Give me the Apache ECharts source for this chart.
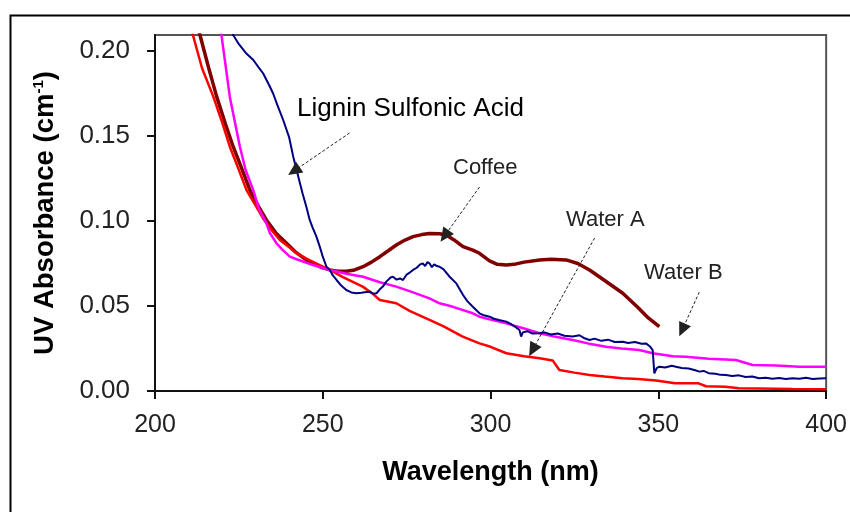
<!DOCTYPE html>
<html>
<head>
<meta charset="utf-8">
<script src="https://cdn.jsdelivr.net/npm/echarts@6/dist/echarts.min.js"></script>
<style>
html,body{margin:0;padding:0;background:#fff;}
#chart{width:850px;height:512px;}
</style>
</head>
<body>
<div id="chart"></div>
<script>
// ---- Data (wavelength nm, absorbance cm^-1) ----
var xTicks = [200, 250, 300, 350, 400];
var yTicks = [0, 0.05, 0.10, 0.15, 0.20];

var waterA_x = [210, 211.3, 214, 217.4, 220, 222.3, 225, 227.3, 230, 232.2, 235, 237.2, 240, 242.2, 246, 249.1, 252.1, 256, 261.9, 265, 267, 271.9, 276, 281.8, 286, 291.7, 296.7, 300, 304.7, 310, 314.6, 318.5, 320.5, 325, 329.5, 334, 339.3, 344, 349.3, 355, 362, 364.2, 370, 374, 380, 390, 400];
var waterA_y = [0.218, 0.2094, 0.19, 0.173, 0.158, 0.1437, 0.13, 0.118, 0.109, 0.1015, 0.094, 0.0888, 0.0845, 0.081, 0.077, 0.074, 0.0712, 0.067, 0.0614, 0.057, 0.0535, 0.0516, 0.047, 0.0418, 0.038, 0.032, 0.028, 0.026, 0.0222, 0.0205, 0.0192, 0.018, 0.0124, 0.0108, 0.0094, 0.0085, 0.0075, 0.007, 0.0062, 0.0045, 0.0045, 0.0028, 0.0025, 0.0016, 0.0015, 0.0012, 0.001];

var waterB_x = [219, 219.8, 222.3, 225.3, 227, 229.3, 231, 233.2, 234.2, 236.2, 238, 240.2, 242.2, 247.1, 252.1, 257, 262, 267, 271.9, 276.9, 281.8, 284.8, 288, 291.8, 294.7, 296.7, 300, 304.7, 310, 314.6, 319, 324.5, 329, 334.4, 339, 344.3, 348.3, 354.3, 358.2, 365, 373.1, 378.1, 385, 392, 400];
var waterB_y = [0.215, 0.2094, 0.173, 0.1437, 0.13, 0.118, 0.107, 0.0986, 0.093, 0.0869, 0.083, 0.079, 0.0775, 0.0741, 0.0712, 0.069, 0.0672, 0.064, 0.0614, 0.058, 0.0545, 0.0516, 0.05, 0.0476, 0.0457, 0.0437, 0.042, 0.0398, 0.0368, 0.034, 0.032, 0.03, 0.028, 0.026, 0.025, 0.0241, 0.0222, 0.0205, 0.0202, 0.019, 0.0182, 0.0153, 0.015, 0.0143, 0.0143];

var coffee_x = [212.5, 213.4, 216, 218.4, 221, 223.3, 226, 228.3, 231, 233.2, 236, 239.2, 242, 245.1, 247.1, 249.5, 252.1, 254.5, 257, 259.5, 262, 264.5, 267, 269.5, 271.9, 274.5, 276.9, 279.5, 281.8, 284.8, 286.8, 289, 291.8, 294.7, 296.7, 299.7, 302, 304.7, 307, 310, 314.6, 318, 322.5, 326, 329.5, 334, 339.4, 344, 347, 350.3];
var coffee_y = [0.216, 0.2094, 0.19, 0.173, 0.157, 0.1437, 0.13, 0.118, 0.108, 0.1006, 0.093, 0.0869, 0.0815, 0.0771, 0.0751, 0.0728, 0.0712, 0.0705, 0.0705, 0.0712, 0.0731, 0.0758, 0.079, 0.0825, 0.0859, 0.0888, 0.0908, 0.092, 0.0927, 0.0925, 0.0918, 0.089, 0.0849, 0.0829, 0.081, 0.0765, 0.0745, 0.0741, 0.0745, 0.0758, 0.0771, 0.0775, 0.0771, 0.075, 0.0712, 0.065, 0.0575, 0.049, 0.043, 0.0378];

var lignin_x = [222.5, 223.3, 225, 227, 229.3, 231, 232.2, 234, 235.2, 236.5, 238.2, 240, 241.2, 242.2, 243.2, 244, 245.1, 246.1, 247, 248.1, 249.1, 250, 251.1, 252.1, 253, 254.1, 255.5, 257, 258.5, 260, 261.5, 263, 264, 265, 266, 267, 267.9, 269, 270.2, 270.9, 272, 273, 273.9, 275, 276, 276.9, 278, 279, 279.8, 280.5, 281.2, 281.8, 282.5, 283.2, 284, 284.8, 286, 287.8, 289.8, 291.8, 293, 294.7, 296.7, 298, 299.7, 301, 302.5, 304.7, 306, 307.5, 308.6, 309.1, 309.6, 311, 312.5, 314.6, 316, 318, 320, 322, 324.5, 326.5, 328, 329.5, 331, 333, 335, 337, 339.4, 341, 343, 345, 346.3, 347.5, 348.3, 348.8, 349.5, 350.3, 352, 354, 355.2, 357, 359, 361, 362.2, 363.5, 365, 367, 368.5, 370.1, 372, 374, 376, 378, 380, 382, 384, 386, 388, 390, 392, 394, 396, 398, 400];
var lignin_y = [0.213, 0.2094, 0.204, 0.199, 0.1947, 0.190, 0.1869, 0.180, 0.175, 0.168, 0.1594, 0.149, 0.1378, 0.130, 0.1222, 0.116, 0.1084, 0.1006, 0.096, 0.0908, 0.0849, 0.079, 0.0731, 0.0712, 0.068, 0.0653, 0.062, 0.0594, 0.058, 0.0575, 0.0578, 0.0582, 0.0584, 0.0572, 0.0575, 0.0598, 0.0614, 0.0645, 0.0668, 0.0672, 0.0655, 0.0662, 0.0653, 0.0685, 0.0698, 0.0712, 0.0725, 0.0745, 0.0751, 0.0735, 0.0758, 0.0751, 0.0728, 0.0745, 0.0735, 0.0731, 0.0715, 0.0672, 0.0633, 0.0565, 0.053, 0.0496, 0.0457, 0.0445, 0.0437, 0.0425, 0.0418, 0.0408, 0.0395, 0.0375, 0.0359, 0.032, 0.0345, 0.0352, 0.0338, 0.034, 0.0345, 0.0332, 0.0338, 0.0325, 0.032, 0.0328, 0.031, 0.030, 0.0308, 0.0295, 0.0302, 0.0288, 0.029, 0.0282, 0.0288, 0.0278, 0.028, 0.0262, 0.0241, 0.0104, 0.0135, 0.0143, 0.0138, 0.0148, 0.0143, 0.0135, 0.0132, 0.0122, 0.0114, 0.0118, 0.0105, 0.0102, 0.0095, 0.0094, 0.0088, 0.0092, 0.0082, 0.0085, 0.0075, 0.0078, 0.0072, 0.0076, 0.007, 0.0075, 0.0072, 0.0078, 0.007, 0.0074, 0.0075];

// Annotation arrows: [fromX, fromY, toX, toY] in data units
var arrowLignin = [258.0, 0.1518, 241.4, 0.1294];
var arrowCoffee = [296.7, 0.120, 286.3, 0.0912];
var arrowWaterA = [331.0, 0.090, 312.5, 0.0241];
var arrowWaterB = [362.2, 0.0582, 357.1, 0.0359];

function zip(xs, ys) { return xs.map(function (x, i) { return [x, ys[i]]; }); }
function arrow(a) { return [{ coord: [a[0], a[1]] }, { coord: [a[2], a[3]] }]; }

var FONT = '"Liberation Sans", Arial, sans-serif';
var chart = echarts.init(document.getElementById('chart'), null, { renderer: 'canvas' });

chart.setOption({
  animation: false,
  backgroundColor: '#ffffff',
  grid: { left: 155, top: 35, right: 22, bottom: 121, show: true, borderColor: '#555', borderWidth: 2, backgroundColor: 'transparent' },
  xAxis: {
    type: 'value', min: 200, max: 400, interval: 50,
    name: 'Wavelength (nm)', nameLocation: 'middle', nameGap: 68,
    nameTextStyle: { fontFamily: FONT, fontWeight: 'bold', fontSize: 27, color: '#000' },
    axisLine: { lineStyle: { color: '#111', width: 2 } },
    axisTick: { length: 8, lineStyle: { color: '#111', width: 2 } },
    axisLabel: { fontFamily: FONT, fontSize: 25, color: '#222', margin: 22, customValues: xTicks },
    splitLine: { show: false }
  },
  yAxis: {
    type: 'value', min: 0, max: 0.2094,
    name: '{a|UV Absorbance (cm}{b|-1}{a|)}', nameLocation: 'middle', nameGap: 96, nameRotate: 90,
    nameTextStyle: {
      rich: {
        a: { fontFamily: FONT, fontWeight: 'bold', fontSize: 27.5, color: '#000', verticalAlign: 'bottom' },
        b: { fontFamily: FONT, fontWeight: 'bold', fontSize: 15, color: '#000', verticalAlign: 'top' }
      }
    },
    axisLine: { show: true, lineStyle: { color: '#111', width: 2 } },
    axisTick: { show: true, length: 8, lineStyle: { color: '#111', width: 2 }, customValues: yTicks },
    axisLabel: { fontFamily: FONT, fontSize: 26, color: '#222', margin: 25, customValues: yTicks,
      formatter: function (v) { return v.toFixed(2); } },
    splitLine: { show: false }
  },
  series: [
    { name: 'Coffee', type: 'line', showSymbol: false, smooth: false, data: zip(coffee_x, coffee_y),
      lineStyle: { color: '#800000', width: 3.5 }, itemStyle: { color: '#800000' } },
    { name: 'Water A', type: 'line', showSymbol: false, data: zip(waterA_x, waterA_y),
      lineStyle: { color: '#FF0000', width: 2.5 }, itemStyle: { color: '#FF0000' } },
    { name: 'Water B', type: 'line', showSymbol: false, data: zip(waterB_x, waterB_y),
      lineStyle: { color: '#FF00FF', width: 2.5 }, itemStyle: { color: '#FF00FF' } },
    { name: 'Lignin Sulfonic Acid', type: 'line', showSymbol: false, data: zip(lignin_x, lignin_y),
      lineStyle: { color: '#000080', width: 2 }, itemStyle: { color: '#000080' } },
    { name: 'arrows', type: 'line', data: [], silent: true,
      markLine: {
        silent: true, animation: false,
        symbol: ['none', 'triangle'], symbolSize: [13, 14],
        label: { show: false },
        lineStyle: { color: '#222', width: 1, type: [3, 2] },
        itemStyle: { color: '#000' },
        emphasis: { disabled: true },
        data: [arrow(arrowLignin), arrow(arrowCoffee), arrow(arrowWaterA), arrow(arrowWaterB)]
      }
    }
  ],
  graphic: [
    { type: 'rect', left: 8, top: 13, z: 100, silent: true,
      shape: { x: 0, y: 0, width: 900, height: 600 },
      style: { fill: 'none', stroke: '#000', lineWidth: 2 } },
    { type: 'text', left: 297, top: 96, z: 100, silent: true,
      style: { text: 'Lignin Sulfonic Acid', font: '26px ' + FONT, fill: '#000', backgroundColor: '#fff' } },
    { type: 'text', left: 453, top: 157, z: 100, silent: true,
      style: { text: 'Coffee', font: '22px ' + FONT, fill: '#222' } },
    { type: 'text', left: 566, top: 209, z: 100, silent: true,
      style: { text: 'Water A', font: '22px ' + FONT, fill: '#222' } },
    { type: 'text', left: 644, top: 262, z: 100, silent: true,
      style: { text: 'Water B', font: '22px ' + FONT, fill: '#222' } }
  ]
});
</script>
</body>
</html>
